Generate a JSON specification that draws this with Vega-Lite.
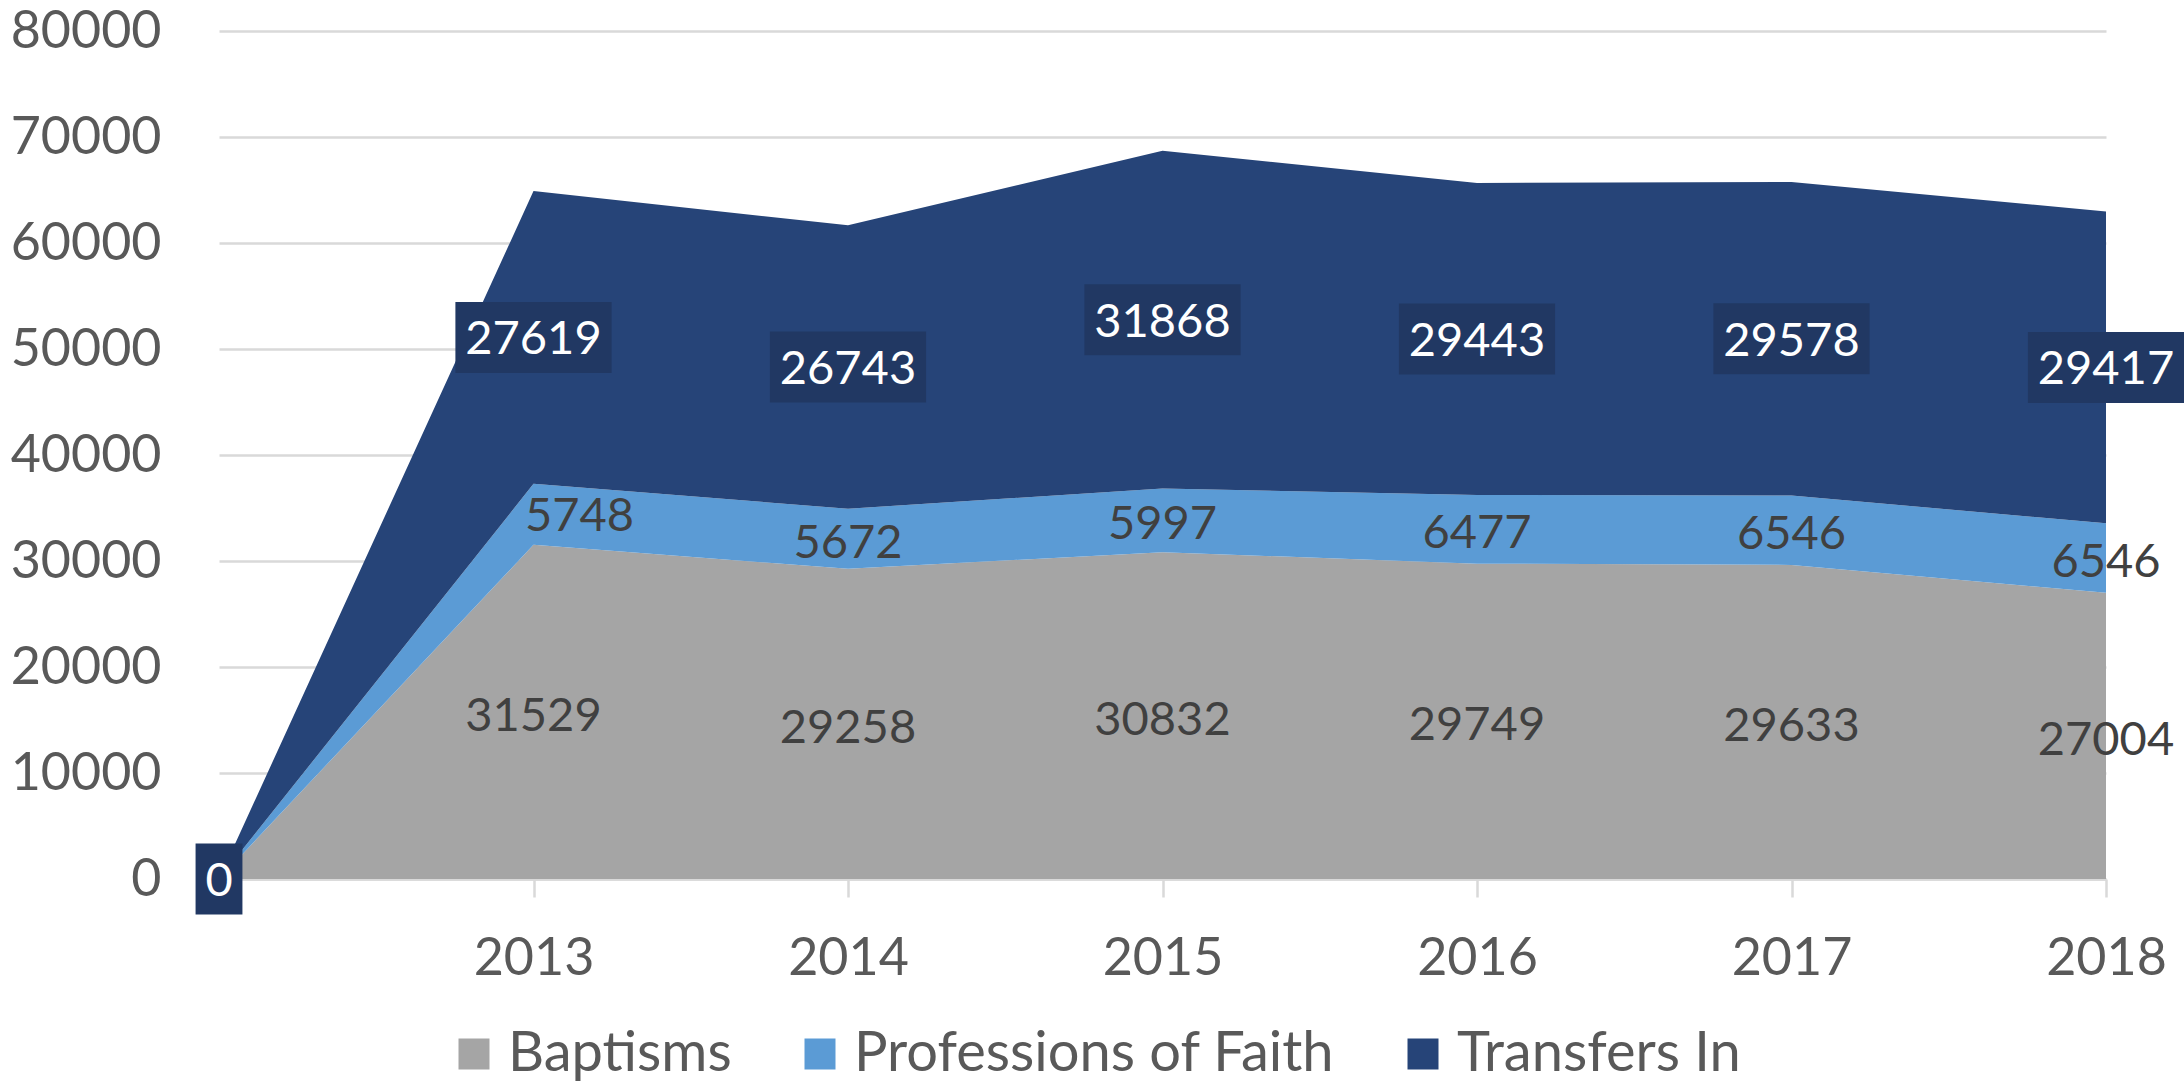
{
  "$schema": "https://vega.github.io/schema/vega-lite/v6.json",
  "width": 1887,
  "height": 848,
  "autosize": {"type": "none"},
  "padding": {"left": 219, "top": 31, "right": 78, "bottom": 203},
  "background": "white",
  "config": {
    "view": {"stroke": null},
    "font": "Lato",
    "axis": {"labelFont": "Lato", "labelColor": "#595959", "labelFontSize": 52, "title": null}
  },
  "data": {
    "values": [
      {"year": "", "type": "Baptisms", "value": 0},
      {"year": "", "type": "Professions of Faith", "value": 0},
      {"year": "", "type": "Transfers In", "value": 0},
      {"year": "2013", "type": "Baptisms", "value": 31529},
      {"year": "2013", "type": "Professions of Faith", "value": 5748},
      {"year": "2013", "type": "Transfers In", "value": 27619},
      {"year": "2014", "type": "Baptisms", "value": 29258},
      {"year": "2014", "type": "Professions of Faith", "value": 5672},
      {"year": "2014", "type": "Transfers In", "value": 26743},
      {"year": "2015", "type": "Baptisms", "value": 30832},
      {"year": "2015", "type": "Professions of Faith", "value": 5997},
      {"year": "2015", "type": "Transfers In", "value": 31868},
      {"year": "2016", "type": "Baptisms", "value": 29749},
      {"year": "2016", "type": "Professions of Faith", "value": 6477},
      {"year": "2016", "type": "Transfers In", "value": 29443},
      {"year": "2017", "type": "Baptisms", "value": 29633},
      {"year": "2017", "type": "Professions of Faith", "value": 6546},
      {"year": "2017", "type": "Transfers In", "value": 29578},
      {"year": "2018", "type": "Baptisms", "value": 27004},
      {"year": "2018", "type": "Professions of Faith", "value": 6546},
      {"year": "2018", "type": "Transfers In", "value": 29417}
    ]
  },
  "transform": [
    {"stack": "value", "groupby": ["year"], "sort": [{"field": "type", "order": "ascending"}], "as": ["v0", "v1"]}
  ],
  "encoding": {
    "x": {
      "field": "year",
      "type": "ordinal",
      "sort": ["", "2013", "2014", "2015", "2016", "2017", "2018"],
      "scale": {"type": "point", "padding": 0},
      "axis": {
        "labelAngle": 0,
        "domainColor": "#D9D9D9",
        "domainWidth": 2.5,
        "tickColor": "#D9D9D9",
        "tickWidth": 2.5,
        "tickSize": 18,
        "labelPadding": 36,
        "grid": false
      }
    }
  },
  "layer": [
    {
      "mark": {"type": "area", "opacity": 1},
      "encoding": {
        "y": {
          "field": "v1",
          "type": "quantitative",
          "scale": {"domain": [0, 80000], "nice": false},
          "axis": {
            "values": [0, 10000, 20000, 30000, 40000, 50000, 60000, 70000, 80000],
            "domain": false,
            "ticks": false,
            "tickSize": 0,
            "labelPadding": 58,
            "gridColor": "#D9D9D9",
            "gridWidth": 2.5,
            "format": "d"
          }
        },
        "y2": {"field": "v0"},
        "color": {
          "field": "type",
          "type": "nominal",
          "scale": {
            "domain": ["Baptisms", "Professions of Faith", "Transfers In"],
            "range": ["#A5A5A5", "#5B9BD5", "#264478"]
          },
          "legend": {
            "title": null,
            "orient": "none",
            "legendX": 227,
            "legendY": 995,
            "direction": "horizontal",
            "symbolType": "square",
            "symbolSize": 961,
            "symbolStrokeWidth": 0,
            "symbolOpacity": 1,
            "labelFont": "Lato",
            "labelFontSize": 56,
            "labelColor": "#595959",
            "labelOffset": 6,
            "columnPadding": 60,
            "padding": 0,
            "labelLimit": 1000
          }
        }
      }
    },
    {
      "transform": [
        {"fold": ["v0", "v1"], "as": ["k", "pos"]},
        {"aggregate": [{"op": "mean", "field": "pos", "as": "mid"}, {"op": "max", "field": "value", "as": "value"}], "groupby": ["year", "type"]}
      ],
      "layer": [
        {
          "transform": [{"filter": "datum.type === 'Transfers In'"}],
          "mark": {"type": "point", "filled": true, "opacity": 1, "color": "#213863", "strokeWidth": 0, "size": 5041},
          "encoding": {
            "y": {"field": "mid", "type": "quantitative"},
            "shape": {
              "condition": {"test": "datum.value === 0", "value": "M-0.66,-1H0.66V1H-0.66Z"},
              "value": "M-2.2,-1H2.2V1H-2.2Z"
            }
          }
        },
        {
          "transform": [{"filter": "datum.type === 'Transfers In'"}],
          "mark": {"type": "text", "font": "Lato", "fontSize": 47, "color": "white", "baseline": "middle", "dy": 3},
          "encoding": {
            "y": {"field": "mid", "type": "quantitative"},
            "text": {"field": "value", "type": "quantitative", "format": "d"}
          }
        },
        {
          "transform": [{"filter": "datum.type !== 'Transfers In' && datum.year !== '' && !(datum.year === '2013' && datum.type === 'Professions of Faith')"}],
          "mark": {"type": "text", "font": "Lato", "fontSize": 47, "color": "#404040", "baseline": "middle", "dy": 5},
          "encoding": {
            "y": {"field": "mid", "type": "quantitative"},
            "text": {"field": "value", "type": "quantitative", "format": "d"}
          }
        },
        {
          "transform": [{"filter": "datum.year === '2013' && datum.type === 'Professions of Faith'"}],
          "mark": {"type": "text", "font": "Lato", "fontSize": 47, "color": "#404040", "baseline": "middle", "dy": 3, "dx": 46},
          "encoding": {
            "y": {"field": "mid", "type": "quantitative"},
            "text": {"field": "value", "type": "quantitative", "format": "d"}
          }
        }
      ]
    }
  ]
}
